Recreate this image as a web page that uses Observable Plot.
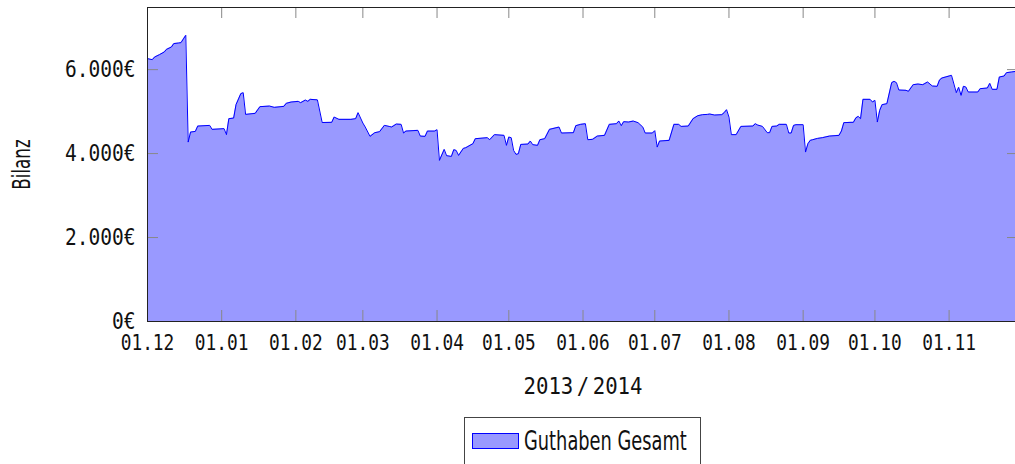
<!DOCTYPE html>
<html><head><meta charset="utf-8">
<script src="https://cdn.jsdelivr.net/npm/d3@7"></script>
<script src="https://cdn.jsdelivr.net/npm/@observablehq/plot@0.6"></script>
<style>
html,body{margin:0;padding:0;background:#fff;overflow:hidden;width:1015px;height:464px;}
#wrap{position:relative;width:1015px;height:464px;overflow:hidden;}
#chart svg{max-width:none!important;display:block;}
#legend{position:absolute;left:464px;top:417px;width:237px;height:60px;border:1px solid #444;box-sizing:border-box;background:#fff;}
#sw{position:absolute;left:7px;top:15px;width:47px;height:16px;background:#9999ff;border:1px solid #0000ff;box-sizing:border-box;}
#lt{position:absolute;left:59px;top:9px;font-family:"DejaVu Sans",sans-serif;font-size:27px;line-height:27px;transform:scaleX(0.66);transform-origin:0 0;white-space:nowrap;color:#111;}
</style>
</head><body>
<div id="wrap"><div id="chart"></div>
<div id="legend"><div id="sw"></div><div id="lt">Guthaben Gesamt</div></div></div>
<script>
const dates = [
"2013-12-01","2013-12-03","2013-12-04","2013-12-06","2013-12-08","2013-12-09","2013-12-11","2013-12-12","2013-12-14","2013-12-15",
"2013-12-17","2013-12-18","2013-12-19","2013-12-21","2013-12-22","2013-12-27","2013-12-28","2014-01-02","2014-01-03","2014-01-04",
"2014-01-06","2014-01-07","2014-01-09","2014-01-10","2014-01-11","2014-01-15","2014-01-17","2014-01-21","2014-01-23","2014-01-27",
"2014-01-28","2014-01-30","2014-02-02","2014-02-03","2014-02-05","2014-02-06","2014-02-07","2014-02-10","2014-02-12","2014-02-16",
"2014-02-17","2014-02-19","2014-02-24","2014-02-26","2014-02-27","2014-03-01","2014-03-02","2014-03-04","2014-03-06","2014-03-08",
"2014-03-10","2014-03-12","2014-03-13","2014-03-15","2014-03-17","2014-03-18","2014-03-19","2014-03-24","2014-03-25","2014-03-27",
"2014-03-28","2014-03-31","2014-04-01","2014-04-02","2014-04-04","2014-04-05","2014-04-07","2014-04-08","2014-04-09","2014-04-10",
"2014-04-12","2014-04-13","2014-04-16","2014-04-17","2014-04-22","2014-04-23","2014-04-25","2014-04-29","2014-04-30","2014-05-01",
"2014-05-02","2014-05-03","2014-05-04","2014-05-05","2014-05-06","2014-05-09","2014-05-10","2014-05-11","2014-05-13","2014-05-14",
"2014-05-16","2014-05-18","2014-05-22","2014-05-23","2014-05-28","2014-05-29","2014-05-31","2014-06-02","2014-06-03","2014-06-05",
"2014-06-07","2014-06-10","2014-06-12","2014-06-15","2014-06-16","2014-06-17","2014-06-18","2014-06-20","2014-06-22","2014-06-24",
"2014-06-26","2014-06-27","2014-06-30","2014-07-01","2014-07-02","2014-07-03","2014-07-07","2014-07-09","2014-07-11","2014-07-12",
"2014-07-15","2014-07-17","2014-07-19","2014-07-21","2014-07-23","2014-07-24","2014-07-26","2014-07-29","2014-07-30","2014-07-31",
"2014-08-01","2014-08-02","2014-08-04","2014-08-06","2014-08-11","2014-08-12","2014-08-13","2014-08-15","2014-08-17","2014-08-18",
"2014-08-19","2014-08-21","2014-08-22","2014-08-25","2014-08-26","2014-08-27","2014-08-28","2014-08-29","2014-09-01","2014-09-02",
"2014-09-03","2014-09-04","2014-09-05","2014-09-07","2014-09-09","2014-09-12","2014-09-16","2014-09-17","2014-09-18","2014-09-21",
"2014-09-22","2014-09-23","2014-09-24","2014-09-25","2014-09-26","2014-09-29","2014-09-30","2014-10-01","2014-10-02","2014-10-03",
"2014-10-04","2014-10-06","2014-10-08","2014-10-09","2014-10-10","2014-10-11","2014-10-14","2014-10-15","2014-10-17","2014-10-19",
"2014-10-21","2014-10-23","2014-10-25","2014-10-27","2014-10-28","2014-10-29","2014-11-01","2014-11-02","2014-11-04","2014-11-05",
"2014-11-06","2014-11-07","2014-11-08","2014-11-09","2014-11-13","2014-11-14","2014-11-17","2014-11-18","2014-11-19","2014-11-21",
"2014-11-22","2014-11-24","2014-11-25","2014-11-27","2014-11-29","2014-11-30"];
const balance = [
6262,6238,6300,6357,6420,6484,6539,6620,6634,6643,
6818,4274,4512,4529,4655,4672,4577,4594,4451,4832,
4846,5166,5428,5451,4934,4958,5118,5132,5101,5125,
5197,5228,5244,5213,5275,5244,5292,5280,4740,4744,
4870,4815,4815,4832,4975,4728,4632,4410,4498,4522,
4672,4648,4632,4703,4696,4489,4536,4553,4417,4410,
4536,4536,4569,3838,4100,3950,3933,4093,4076,3957,
4124,4140,4236,4355,4379,4331,4451,4434,4196,4394,
4379,4076,3981,3997,4219,4227,4298,4212,4196,4331,
4355,4577,4632,4489,4498,4665,4696,4712,4331,4339,
4417,4434,4696,4712,4775,4665,4760,4751,4775,4737,
4632,4489,4489,4546,4155,4298,4315,4696,4696,4648,
4656,4832,4903,4927,4934,4942,4918,4927,4975,5046,
4870,4451,4451,4648,4656,4712,4680,4648,4498,4498,
4648,4656,4696,4696,4489,4489,4672,4688,4688,4036,
4236,4315,4331,4362,4379,4417,4434,4536,4737,4744,
4744,4846,4887,4832,5292,5292,5228,5268,4751,5030,
5166,5189,5690,5721,5690,5514,5507,5483,5642,5657,
5642,5705,5610,5602,5753,5800,5848,5864,5452,5578,
5387,5602,5586,5466,5466,5547,5562,5673,5530,5530,
5824,5848,5928,5943,5960,5960];
const xTicks = ["2013-12-01","2014-01-01","2014-02-01","2014-03-01","2014-04-01","2014-05-01","2014-06-01","2014-07-01","2014-08-01","2014-09-01","2014-10-01","2014-11-01"];
const yTicks = [0, 2000, 4000, 6000];
const xDomain = ["2013-12-01", "2014-11-30"];
const yMax = 7480;
const seriesName = "Guthaben Gesamt";
const xLabel = "2013 / 2014";
const yLabel = "Bilanz";

const parse = d3.utcParse("%Y-%m-%d");
const data = dates.map((d, i) => ({date: parse(d), value: balance[i]}));
const xt = xTicks.map(parse);
const loc = d3.formatLocale({decimal: ",", thousands: ".", grouping: [3], currency: ["", "€"]});
const fmtY = (v) => loc.format(",")(v) + "€";
const fmtX = d3.utcFormat("%d.%m");

const W = 1030, H = 410, mL = 147, mT = 7, mR = 12, mB = 89;
const innerW = W - mL - mR, innerH = H - mT - mB;
const tickLen = 11;

const chart = Plot.plot({
  width: W, height: H,
  marginLeft: mL, marginTop: mT, marginRight: mR, marginBottom: mB,
  style: {background: "#fff", color: "#111", overflow: "visible"},
  x: {type: "utc", domain: xDomain.map(parse)},
  y: {domain: [0, yMax]},
  marks: [
    Plot.areaY(data, {x: "date", y: "value", fill: "#9999ff"}),
    Plot.lineY(data, {x: "date", y: "value", stroke: "#0000ff", strokeWidth: 1}),
    Plot.ruleX(xt, {x: d => d, stroke: "#888", insetTop: innerH - tickLen}),
    Plot.ruleX(xt, {x: d => d, stroke: "#888", insetBottom: innerH - tickLen}),
    Plot.ruleY(yTicks, {y: d => d, stroke: "#888", insetRight: innerW - tickLen}),
    Plot.ruleY(yTicks, {y: d => d, stroke: "#888", insetLeft: innerW - tickLen}),
    Plot.frame({stroke: "#222", strokeWidth: 1}),
    Plot.axisX(xt, {anchor: "bottom", tickSize: 0, tickPadding: 14, tickFormat: fmtX, label: null,
      fontSize: 21, fontFamily: "DejaVu Sans Mono", fill: "#111"}),
    Plot.axisY(yTicks, {anchor: "left", tickSize: 0, tickPadding: 12, tickFormat: fmtY, label: null,
      fontSize: 23, fontFamily: "DejaVu Sans Mono", fill: "#111"}),
    Plot.text([xLabel], {frameAnchor: "bottom", dy: 65, textAnchor: "middle", lineAnchor: "middle", fontSize: 23,
      fontFamily: "DejaVu Sans Mono", fill: "#111"}),
    Plot.text([yLabel], {frameAnchor: "left", dx: -125, rotate: -90, textAnchor: "middle", lineAnchor: "middle", fontSize: 24,
      fontFamily: "DejaVu Sans", fill: "#111"})
  ]
});
chart.style.maxWidth = "none";
document.getElementById("chart").appendChild(chart);

function squeezeEl(t, k) {
  const tr = t.getAttribute("transform") || "";
  t.setAttribute("transform", tr + ` scale(${k},1)`);
}
chart.querySelectorAll('g[aria-label="x-axis tick label"] text').forEach(t => squeezeEl(t, 0.85));
chart.querySelectorAll('g[aria-label="y-axis tick label"] text').forEach(t => squeezeEl(t, 0.85));
chart.querySelectorAll('text').forEach(t => {
  if (t.textContent === xLabel) { t.style.wordSpacing = "-10px"; squeezeEl(t, 0.9); }
  else if (t.textContent === yLabel) { squeezeEl(t, 0.7); }
});
</script>
</body></html>
